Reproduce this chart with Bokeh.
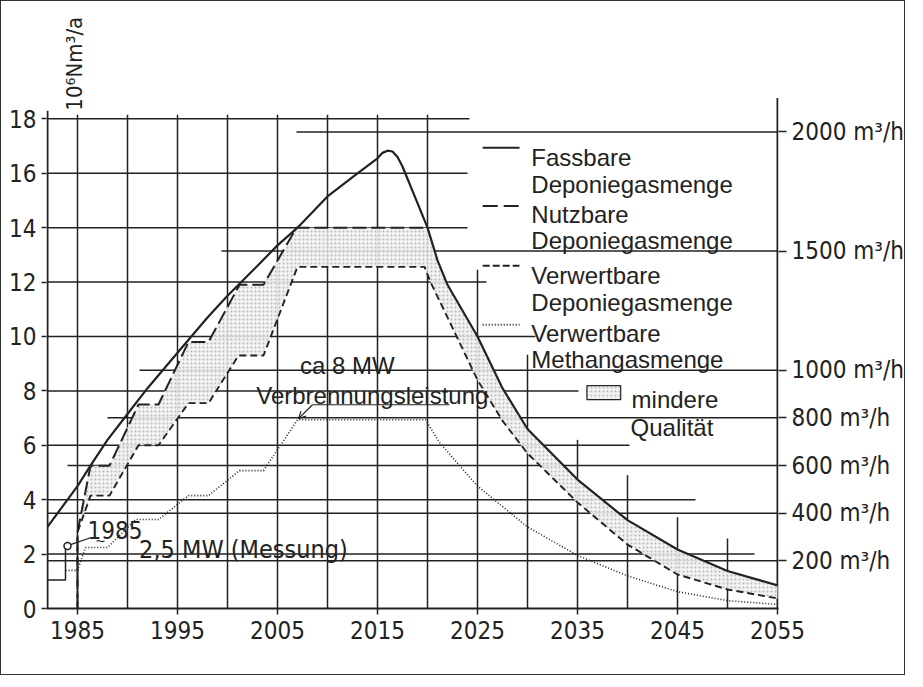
import math
from bokeh.plotting import figure
from bokeh.models import Range1d, LinearAxis, FixedTicker, PrintfTickFormatter, Arrow, OpenHead
from bokeh.core.properties import value
from bokeh.embed import file_html
from bokeh.resources import INLINE

# ---------------- data ----------------
HOURS_PER_YEAR = 8760

x_ticks = [1985, 1995, 2005, 2015, 2025, 2035, 2045, 2055]
y_ticks = [0, 2, 4, 6, 8, 10, 12, 14, 16, 18]
right_ticks_m3h = [200, 400, 600, 800, 1000, 1500, 2000]

# Fassbare Deponiegasmenge (solid)
fass_x = [1982, 1985, 1986.3, 1988, 1990, 1992, 1995, 1998, 2000, 2003, 2005, 2007, 2010, 2013,
          2015, 2015.5, 2016, 2016.5, 2017, 2017.5, 2018, 2019, 2020, 2021, 2022, 2025, 2027.5, 2030,
          2035, 2040, 2045, 2050, 2055]
fass_y = [3.0, 4.5, 5.25, 6.2, 7.15, 8.1, 9.4, 10.7, 11.5, 12.6, 13.35, 14.0, 15.15, 16.0,
          16.55, 16.75, 16.83, 16.8, 16.6, 16.25, 15.8, 14.9, 14.0, 12.8, 11.9, 10.0, 8.1, 6.6,
          4.74, 3.25, 2.17, 1.38, 0.85]

# Nutzbare Deponiegasmenge (long dash, stepped)
nutz_x = [1985, 1985, 1986.3, 1988.2, 1991.1, 1993.1, 1996.1, 1998.1, 2001.2, 2003.6, 2006.9, 2020.0]
nutz_y = [0, 2.8, 5.25, 5.25, 7.5, 7.5, 9.8, 9.8, 11.9, 11.9, 14.0, 14.0]

# Verwertbare Deponiegasmenge (short dash)
verw_x = [1985, 1985, 1986.3, 1988.2, 1991.1, 1993.1, 1996.1, 1998.1, 2001.1, 2003.6, 2007.0, 2019.7,
          2020.3, 2022, 2025, 2027.5, 2030, 2035, 2040, 2045, 2050, 2055]
verw_y = [0, 2.8, 4.15, 4.15, 6.0, 6.0, 7.55, 7.55, 9.3, 9.3, 12.56, 12.56,
          12.0, 10.7, 8.4, 6.9, 5.7, 3.9, 2.35, 1.25, 0.7, 0.37]

# Verwertbare Methangasmenge (dotted)
meth_x = [1983.8, 1985.0, 1985.8, 1988.0, 1990.8, 1993.1, 1996.1, 1998.1, 2001.2, 2003.6, 2007.0, 2019.8,
          2021.2, 2025, 2030, 2035, 2040, 2045, 2050, 2055]
meth_y = [1.4, 1.4, 2.24, 2.24, 3.27, 3.27, 4.15, 4.15, 5.07, 5.07, 6.94, 6.94,
          6.1, 4.5, 3.0, 1.95, 1.2, 0.62, 0.29, 0.15]

# measurement 1985 (2,5 MW)
meas_x = [1982, 1983.8, 1983.8]
meas_y = [1.05, 1.05, 2.24]
meas_pt_x = [1984.0]
meas_pt_y = [2.3]

# grid extents
vgrid_x = [1985, 1990, 1995, 2000, 2005, 2010, 2015, 2020, 2025, 2030, 2035, 2040, 2045, 2050]
vgrid_top = [18.15, 18.15, 18.15, 18.15, 18.15, 18.15, 18.15, 18.15, 12.45, 9.33, 6.2, 4.9, 3.35, 2.57]
hgrid_y = [2, 4, 6, 8, 10, 12, 14, 16, 18]
hgrid_end = [2052.7, 2046.8, 2040.2, 2035.1, 2030.8, 2025.9, 2024.0, 2024.0, 2024.2]
rgrid_start = [1982, 1982, 1984.0, 1988.0, 1991.2, 1999.4, 2006.9]

legend_labels = [("Fassbare", "Deponiegasmenge"),
                 ("Nutzbare", "Deponiegasmenge"),
                 ("Verwertbare", "Deponiegasmenge"),
                 ("Verwertbare", "Methangasmenge")]

# ---------------- figure ----------------
INK = "#222222"
NARROW = "DejaVu Sans Condensed, Liberation Sans Narrow, Liberation Sans, sans-serif"
SANS = "Liberation Sans, Arial, sans-serif"

YTOP = 21.8
p = figure(width=905, height=675, output_backend="svg", toolbar_location=None,
           x_range=Range1d(1981.9, 2055.1), y_range=Range1d(0, YTOP),
           min_border_left=45, min_border_right=123, min_border_top=14, min_border_bottom=68)
p.extra_y_ranges = {"m3h": Range1d(0, YTOP * 1e6 / HOURS_PER_YEAR)}
p.outline_line_color = None
p.xgrid.visible = False
p.ygrid.visible = False
p.background_fill_color = "white"
p.border_fill_color = "white"
p.styles = {"border": "1.5px solid #333"}

for ax in (p.xaxis[0], p.yaxis[0]):
    ax.major_label_text_font = NARROW
    ax.major_label_text_font_size = "24px"
    ax.major_label_text_color = INK
    ax.major_tick_in = 0
    ax.minor_tick_out = 0
    ax.minor_tick_in = 0
    ax.major_tick_line_color = INK
    ax.major_tick_line_width = 1.5

p.xaxis.ticker = FixedTicker(ticks=x_ticks)
p.xaxis.axis_line_color = INK
p.xaxis.axis_line_width = 2
p.xaxis.major_tick_out = 6
p.xaxis.major_label_standoff = 6

p.yaxis.ticker = FixedTicker(ticks=y_ticks)
p.yaxis.axis_line_color = None
p.yaxis.major_tick_out = 5
p.yaxis.major_label_standoff = 5

rax = LinearAxis(y_range_name="m3h", ticker=FixedTicker(ticks=right_ticks_m3h),
                 formatter=PrintfTickFormatter(format="%d m³/h"))
rax.axis_line_color = None
rax.major_tick_out = 8
rax.major_tick_in = 0
rax.minor_tick_out = 0
rax.minor_tick_in = 0
rax.major_tick_line_color = INK
rax.major_tick_line_width = 1.5
rax.major_label_standoff = 5
rax.major_label_text_font = NARROW
rax.major_label_text_font_size = "24px"
rax.major_label_text_color = INK
p.add_layout(rax, "right")

# axis lines of limited height
p.segment(x0=[1982, 2055], y0=[0, 0], x1=[1982, 2055], y1=[18.3, 18.77], line_color=INK, line_width=2)

# grid
p.segment(x0=vgrid_x, y0=[0] * len(vgrid_x), x1=vgrid_x, y1=vgrid_top, line_color=INK, line_width=1.5)
p.segment(x0=[1982] * len(hgrid_y), y0=hgrid_y, x1=hgrid_end, y1=hgrid_y, line_color=INK, line_width=1.5)
p.segment(x0=rgrid_start, y0=right_ticks_m3h, x1=[2055] * len(rgrid_start), y1=right_ticks_m3h,
          y_range_name="m3h", line_color=INK, line_width=1.5)

# shaded area "mindere Qualität"
after = [i for i, x in enumerate(fass_x) if x > 2020]
up_x = nutz_x[1:] + [fass_x[i] for i in after]
up_y = nutz_y[1:] + [fass_y[i] for i in after]
lo_x = verw_x[1:][::-1]
lo_y = verw_y[1:][::-1]
SHADE = dict(fill_color="#efefef", fill_alpha=0.9, hatch_pattern="dot", hatch_color="#b8b8b8",
             hatch_scale=4, hatch_weight=1)
p.patch(up_x + lo_x, up_y + lo_y, line_color=None, **SHADE)

# curves
p.line(fass_x, fass_y, line_color=INK, line_width=2.2)
p.line(nutz_x, nutz_y, line_color=INK, line_width=2.0, line_dash="14 5")
p.line(verw_x, verw_y, line_color=INK, line_width=1.9, line_dash="7 4")
p.line(meth_x, meth_y, line_color=INK, line_width=1.6, line_dash="1 2")

# measurement 1985
p.line(meas_x, meas_y, line_color=INK, line_width=1.5)
p.line([1984.3, 1986.3], [2.35, 2.6], line_color=INK, line_width=1.2)
p.scatter(meas_pt_x, meas_pt_y, size=7, marker="circle", fill_color="white", line_color=INK, line_width=1.5)
p.text(x=[1986.0], y=[2.9], text=["1985"], text_font=value(NARROW), text_font_size="24px",
       text_color=INK, text_baseline="alphabetic", text_align="left")
p.text(x=[1987.3], y=[2.45], text=["~"], text_font=value(SANS), text_font_size="16px",
       text_color=INK, text_baseline="middle", text_align="center")
p.text(x=[1991.16], y=[2.17], text=["2,5 MW (Messung)"], text_font=value(NARROW), text_font_size="25px",
       text_color=INK, text_baseline="alphabetic", text_align="left")

# 8 MW annotation
p.text(x=[2007.24, 2002.87], y=[8.93, 7.83], text=["ca 8 MW", "Verbrennungsleistung"],
       text_font=value(SANS), text_font_size="24px", text_color=INK,
       text_baseline="alphabetic", text_align="left")
p.line([2022.2, 2008.5], [7.49, 7.49], line_color=INK, line_width=1.2)
p.add_layout(Arrow(end=OpenHead(size=7, line_color=INK, line_width=1.2), x_start=2008.5, y_start=7.49,
                   x_end=2007.1, y_end=6.98, line_color=INK, line_width=1.2))

# y unit label
p.text(x=[1984.7], y=[18.3], text=["10⁶Nm³/a"], angle=math.pi / 2, text_font=value(NARROW),
       text_font_size="22px", text_color=INK, text_baseline="alphabetic", text_align="left")

# legend
leg_y = [16.94, 14.8, 12.6, 10.43]
leg_dash = ["solid", "15 6", "7 3", "1 2"]
for yy, dash in zip(leg_y, leg_dash):
    p.line([2025.52, 2029.2], [yy, yy], line_color=INK, line_width=2.0, line_dash=dash)
leg_text_y = [16.57, 15.58, 14.47, 13.52, 12.23, 11.24, 10.10, 9.15]
leg_text = [s for pair in legend_labels for s in pair]
p.text(x=[2030.38] * len(leg_text), y=leg_text_y, text=leg_text, text_font=value(SANS),
       text_font_size="24px", text_color=INK, text_baseline="alphabetic", text_align="left")
p.quad(left=[2035.94], right=[2039.32], top=[8.19], bottom=[7.68], line_color=INK, line_width=1.2, **SHADE)
p.text(x=[2040.41, 2040.31], y=[7.68, 6.65], text=["mindere", "Qualität"], text_font=value(SANS),
       text_font_size="24px", text_color=INK, text_baseline="alphabetic", text_align="left")

open("out.html", "w").write(file_html(p, INLINE))
